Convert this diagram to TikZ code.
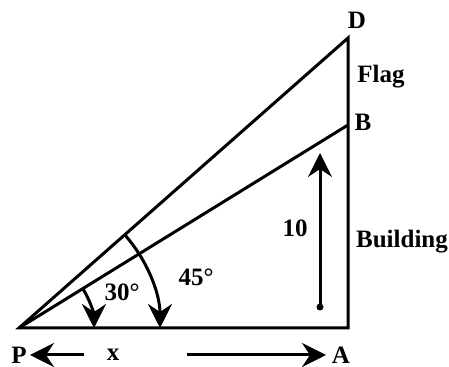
\documentclass[tikz,border=0pt]{standalone}
\usepackage{fontspec}
\setmainfont{Liberation Serif}
\usepackage{tikz}
\usetikzlibrary{positioning,arrows.meta}

\begin{document}
\begin{tikzpicture}[x=0.5pt,y=0.5pt,line width=1.5pt,
  >={Stealth[length=12pt,width=12pt,inset=4pt]},
  lbl/.style={font=\fontsize{12.5}{14}\selectfont\bfseries,inner sep=0pt}]
\useasboundingbox (0,0) rectangle (449,367);
\coordinate (P) at (19,39);
\coordinate (A) at (348,39);
\coordinate (B) at (348,242);
\coordinate (D) at (348,329);
\coordinate (foot) at (320,60);
\coordinate (top) at (320,214);
\draw (P) -- (A) -- (D) -- cycle;
\draw (P) -- (B);
% angle marks
\draw[->] (P) ++(31.7:75) arc[start angle=31.7,end angle=0,radius=75];
\draw[->] (P) ++(41.4:141) arc[start angle=41.4,end angle=0,radius=141];
\node[lbl] (a30) at (122,75) {30°};
\node[lbl] (a45) at (196,90) {45°};
% height of building
\fill (foot) circle (3.5);
\draw[->] (foot) -- (top);
\node[lbl] (h) at (295,139) {10};
% labels
\node[lbl] (lD) at (357,347) {D};
\node[lbl] (lflag) at (381,290) {Flag};
\node[lbl] (lB) at (363,245) {B};
\node[lbl] (lbuild) at (402,125) {Building};
\node[lbl] (lP) at (19,12) {P};
\node[lbl] (lA) at (341,12) {A};
\node[lbl] (lx) at (113,12) {x};
\draw[->] (lx.west) ++(-21,0) -- (30,12);
\draw[->] (lx.east) ++(66,0) -- (326,12);
\end{tikzpicture}
\end{document}
